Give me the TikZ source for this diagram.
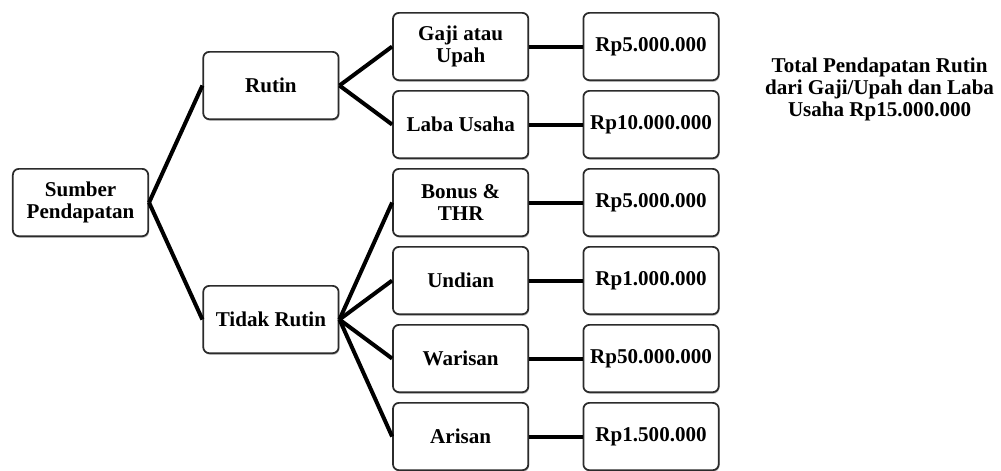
\documentclass[tikz,border=0pt]{standalone}
\usepackage{fontspec}
\setmainfont{Liberation Serif}
\usepackage{xcolor}
\usepackage{tikz}
\usetikzlibrary{positioning,calc,shadows}
\definecolor{boxline}{HTML}{2B2B2B}
\definecolor{boxshade}{HTML}{7A7A7A}
\definecolor{linkblack}{HTML}{000000}

\begin{document}
\begin{tikzpicture}[
  font=\fontsize{15.8pt}{16.5pt}\selectfont\bfseries,
  box/.style={
    draw=boxline,
    fill=white,
    rounded corners=4.5pt,
    line width=1.3pt,
    minimum width=101.5pt,
    minimum height=50.5pt,
    align=center,
    inner sep=2pt,
    drop shadow={shadow xshift=0.6pt,shadow yshift=-1.2pt,fill=boxshade,opacity=0.45}
  },
  link/.style={draw=linkblack,line width=3pt},
  note/.style={align=center,inner sep=0pt}
]
  % kolom tengah
  \node[box] (gaji) {Gaji atau\\Upah};
  \node[box,below=6.7pt of gaji] (laba) {Laba Usaha};
  \node[box,below=6.7pt of laba] (bonus) {Bonus \&\\THR};
  \node[box,below=6.7pt of bonus] (undian) {Undian};
  \node[box,below=6.7pt of undian] (warisan) {Warisan};
  \node[box,below=6.7pt of warisan] (arisan) {Arisan};

  % kolom nominal
  \node[box,right=40pt of gaji] (rpgaji) {Rp5.000.000};
  \node[box,right=40pt of laba] (rplaba) {Rp10.000.000};
  \node[box,right=40pt of bonus] (rpbonus) {Rp5.000.000};
  \node[box,right=40pt of undian] (rpundian) {Rp1.000.000};
  \node[box,right=40pt of warisan] (rpwarisan) {Rp50.000.000};
  \node[box,right=40pt of arisan] (rparisan) {Rp1.500.000};

  % kelompok
  \coordinate (rutinmid) at ($(gaji.west)!0.5!(laba.west)$);
  \coordinate (tidakmid) at ($(undian.west)!0.5!(warisan.west)$);
  \node[box,left=39.5pt of rutinmid] (rutin) {Rutin};
  \node[box,left=39.5pt of tidakmid] (tidak) {Tidak Rutin};
  \coordinate (srcmid) at (rutin.west |- bonus.west);
  \node[box,left=40pt of srcmid] (sumber) {Sumber\\Pendapatan};

  \node[note] (total) at ($(rpgaji.east)!0.5!(rplaba.east)+(120pt,-3pt)$)
    {Total Pendapatan Rutin\\dari Gaji/Upah dan Laba\\Usaha Rp15.000.000};

  \draw[link] (sumber.east) -- (rutin.west);
  \draw[link] (sumber.east) -- (tidak.west);
  \draw[link] (rutin.east) -- (gaji.west);
  \draw[link] (rutin.east) -- (laba.west);
  \foreach \k in {bonus,undian,warisan,arisan}
    \draw[link] (tidak.east) -- (\k.west);
  \foreach \k in {gaji,laba,bonus,undian,warisan,arisan}
    \draw[link] (\k.east) -- (rp\k.west);

  \pgfresetboundingbox
  \path[use as bounding box] ($(sumber.west |- gaji.north)+(-9pt,9pt)$) rectangle ++(750.75pt,-353.25pt);
\end{tikzpicture}
\end{document}
